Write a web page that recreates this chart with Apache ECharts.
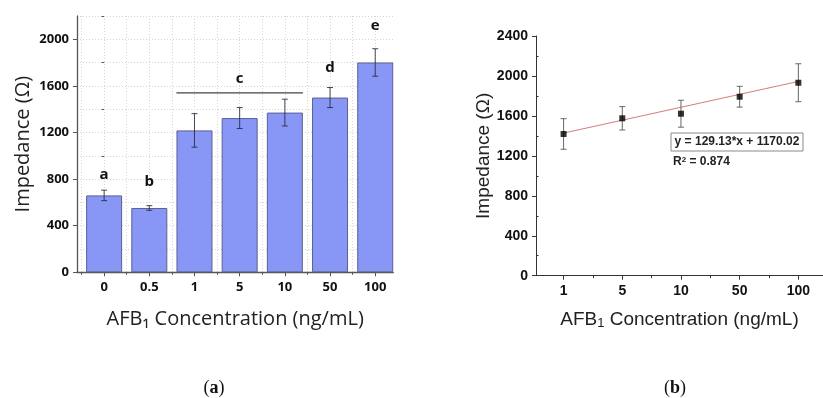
<!DOCTYPE html>
<html>
<head>
<meta charset="utf-8">
<script src="https://cdn.jsdelivr.net/npm/echarts@6/dist/echarts.min.js"></script>
<style>html,body{margin:0;padding:0;background:#fff}#c{width:823px;height:398px}</style>
</head>
<body>
<div id="c"></div>
<script>
// ---- Panel (a) data ----
const concA = ['0', '0.5', '1', '5', '10', '50', '100'];
const impA = [660, 552, 1218, 1324, 1371, 1500, 1801];
const errA = [45, 20, 144, 90, 115, 86, 118];
const sigLetters = ['a', 'b', 'c', 'd', 'e'];
const sigX = [0, 1, 3, 5, 6];
const sigY = [770, 709, 1597, 1692, 2053];
const bracketX = [1.6, 4.4];
const bracketY = 1540;
const yTicksA = [0, 400, 800, 1200, 1600, 2000];
const yMinorA = [200, 600, 1000, 1400, 1800, 2200];

// ---- Panel (b) data ----
const concB = ['1', '5', '10', '50', '100'];
const impB = [1419, 1576, 1622, 1792, 1932];
const errB = [153, 117, 135, 104, 190];
const fitX = [1, 5];
const fitY = [1428, 1945];
const yTicksB = [0, 400, 800, 1200, 1600, 2000, 2400];
const yMinorB = [200, 600, 1000, 1400, 1800, 2200];

const idxA = concA.map((_, i) => i);
const boundA = [-0.5, 0.5, 1.5, 2.5, 3.5, 4.5, 5.5];
const posB = concB.map((_, i) => i + 1);
const boundB = [1.5, 2.5, 3.5, 4.5];

const fontA = '"Open Sans", "Noto Sans", sans-serif';
const fontB = '"Liberation Sans", Arial, sans-serif';
const plain = v => String(Math.round(v));

function errRender(halfCap, color, width) {
  return function (params, api) {
    const x = api.value(0), y = api.value(1), e = api.value(2);
    const top = api.coord([x, y + e]);
    const bot = api.coord([x, y - e]);
    const style = { stroke: color, lineWidth: width };
    return {
      type: 'group',
      children: [
        { type: 'line', shape: { x1: top[0], y1: top[1], x2: bot[0], y2: bot[1] }, style },
        { type: 'line', shape: { x1: top[0] - halfCap, y1: top[1], x2: top[0] + halfCap, y2: top[1] }, style },
        { type: 'line', shape: { x1: bot[0] - halfCap, y1: bot[1], x2: bot[0] + halfCap, y2: bot[1] }, style }
      ]
    };
  };
}

const gridLineA = { show: true, lineStyle: { color: '#d4d4d4', type: [1, 2], width: 1 } };
const axisColA = '#555';
const axisColB = '#333';

const chart = echarts.init(document.getElementById('c'), null, { renderer: 'canvas' });
chart.setOption({
  animation: false,
  backgroundColor: '#fff',
  grid: [
    { left: 77, top: 16, right: 429.7, bottom: 125.7, containLabel: false },
    { left: 536, top: 36, right: 0, bottom: 122.3, containLabel: false }
  ],
  xAxis: [
    {
      gridIndex: 0, type: 'value', min: -0.6, max: 6.4, position: 'bottom',
      axisLine: { show: true, onZero: false, lineStyle: { color: axisColA, width: 1.3 } },
      axisTick: { show: true, customValues: idxA, length: 4, lineStyle: { color: axisColA } },
      axisLabel: { show: true, customValues: idxA, formatter: v => concA[Math.round(v)],
        fontFamily: fontA, fontWeight: 'bold', fontSize: 13, color: '#111', margin: 8 },
      splitLine: gridLineA,
      name: 'AFB\u2081 Concentration (ng/mL)', nameLocation: 'middle', nameGap: 37,
      nameTextStyle: { fontFamily: fontA, fontSize: 20, color: '#222' }
    },
    {
      gridIndex: 0, type: 'value', min: -0.6, max: 6.4, position: 'bottom',
      axisLine: { show: false },
      axisTick: { show: true, customValues: boundA, length: 2.5, lineStyle: { color: axisColA } },
      axisLabel: { show: false },
      splitLine: gridLineA
    },
    {
      gridIndex: 1, type: 'value', min: 0.53, max: 5.42, position: 'bottom',
      axisLine: { show: true, onZero: false, lineStyle: { color: axisColB, width: 1 } },
      axisTick: { show: true, customValues: posB, length: 4, lineStyle: { color: axisColB } },
      axisLabel: { show: true, customValues: posB, formatter: v => concB[Math.round(v) - 1],
        fontFamily: fontB, fontWeight: 'bold', fontSize: 14, color: '#111', margin: 8 },
      splitLine: { show: false },
      name: '{n|AFB}{s|1}{n| Concentration (ng/mL)}', nameLocation: 'middle', nameGap: 30,
      nameTextStyle: {
        rich: {
          n: { fontFamily: fontB, fontSize: 19, color: '#222', lineHeight: 24, verticalAlign: 'bottom' },
          s: { fontFamily: fontB, fontSize: 13, color: '#222', lineHeight: 13, verticalAlign: 'bottom' }
        }
      }
    },
    {
      gridIndex: 1, type: 'value', min: 0.53, max: 5.42, position: 'bottom',
      axisLine: { show: false },
      axisTick: { show: true, customValues: boundB, length: 2.5, lineStyle: { color: axisColB } },
      axisLabel: { show: false },
      splitLine: { show: false }
    }
  ],
  yAxis: [
    {
      gridIndex: 0, type: 'value', min: 0, max: 2200, position: 'left',
      axisLine: { show: true, onZero: false, lineStyle: { color: axisColA, width: 1.3 } },
      axisTick: { show: true, customValues: yTicksA, length: 4, lineStyle: { color: axisColA } },
      axisLabel: { show: true, customValues: yTicksA, formatter: plain, fontFamily: fontA, fontWeight: 'bold', fontSize: 13, color: '#111', margin: 8 },
      splitLine: gridLineA,
      name: 'Impedance (\u03A9)', nameLocation: 'middle', nameGap: 44,
      nameTextStyle: { fontFamily: fontA, fontSize: 20, color: '#222' }
    },
    {
      gridIndex: 0, type: 'value', min: 0, max: 2200, position: 'left',
      axisLine: { show: false },
      axisTick: { show: true, customValues: yMinorA, length: 2.5, lineStyle: { color: axisColA } },
      axisLabel: { show: false },
      splitLine: gridLineA
    },
    {
      gridIndex: 1, type: 'value', min: 0, max: 2400, position: 'left',
      axisLine: { show: true, onZero: false, lineStyle: { color: axisColB, width: 1 } },
      axisTick: { show: true, customValues: yTicksB, length: 4, lineStyle: { color: axisColB } },
      axisLabel: { show: true, customValues: yTicksB, formatter: plain, fontFamily: fontB, fontWeight: 'bold', fontSize: 14, color: '#111', margin: 8 },
      splitLine: { show: false },
      name: 'Impedance (\u03A9)', nameLocation: 'middle', nameGap: 42,
      nameTextStyle: { fontFamily: fontB, fontSize: 19, color: '#222' }
    },
    {
      gridIndex: 1, type: 'value', min: 0, max: 2400, position: 'left',
      axisLine: { show: false },
      axisTick: { show: true, inside: true, customValues: yMinorB, length: 2.5, lineStyle: { color: axisColB } },
      axisLabel: { show: false },
      splitLine: { show: false }
    }
  ],
  series: [
    {
      type: 'bar', xAxisIndex: 0, yAxisIndex: 0, barWidth: 36,
      data: impA.map((v, i) => [i, v]),
      itemStyle: { color: '#8896f5', borderColor: '#5b6190', borderWidth: 1 }
    },
    {
      type: 'custom', xAxisIndex: 0, yAxisIndex: 0,
      renderItem: errRender(3, 'rgba(40,40,60,0.85)', 1),
      data: impA.map((v, i) => [i, v, errA[i]]), z: 5
    },
    {
      type: 'line', xAxisIndex: 0, yAxisIndex: 0, symbol: 'none',
      data: bracketX.map(x => [x, bracketY]),
      lineStyle: { color: '#444', width: 1.2 }, z: 5
    },
    {
      type: 'custom', xAxisIndex: 0, yAxisIndex: 0, z: 6,
      renderItem: function (params, api) {
        const p = api.coord([api.value(0), api.value(1)]);
        return { type: 'text', x: p[0], y: p[1], style: {
          text: sigLetters[params.dataIndex], textAlign: 'center', textVerticalAlign: 'bottom',
          font: 'bold 15px ' + fontA, fill: '#111' } };
      },
      data: sigX.map((x, i) => [x, sigY[i]])
    },
    {
      type: 'line', xAxisIndex: 2, yAxisIndex: 2, symbol: 'none',
      data: fitX.map((x, i) => [x, fitY[i]]),
      lineStyle: { color: '#d47c7c', width: 1 }, z: 3
    },
    {
      type: 'custom', xAxisIndex: 2, yAxisIndex: 2,
      renderItem: errRender(3, '#666', 1),
      data: impB.map((v, i) => [i + 1, v, errB[i]]), z: 4
    },
    {
      type: 'scatter', xAxisIndex: 2, yAxisIndex: 2, symbol: 'rect', symbolSize: 6,
      data: impB.map((v, i) => [i + 1, v]),
      itemStyle: { color: '#000' }, z: 6
    }
  ],
  graphic: [
    { type: 'rect', shape: { x: 671, y: 133, width: 132, height: 18 },
      style: { fill: '#fff', stroke: '#8a8a8a', lineWidth: 1 }, z: 10 },
    { type: 'text', x: 737, y: 142, z: 11,
      style: { text: 'y = 129.13*x + 1170.02', font: 'bold 12px ' + fontB, fill: '#222',
        textAlign: 'center', textVerticalAlign: 'middle' } },
    { type: 'text', x: 673, y: 156, z: 11,
      style: { text: '{n|R}{p|2}{n| = 0.874}', textAlign: 'left', textVerticalAlign: 'top',
        rich: { n: { font: 'bold 12px ' + fontB, fill: '#222', lineHeight: 14, verticalAlign: 'top' },
                p: { font: 'bold 8px ' + fontB, fill: '#222', lineHeight: 9, verticalAlign: 'top' } } } },
    { type: 'text', x: 214, y: 388, z: 11,
      style: { text: '{n|(}{b|a}{n|)}', textAlign: 'center', textVerticalAlign: 'middle',
        rich: { n: { font: '18px "Liberation Serif", serif', fill: '#111' },
                b: { font: 'bold 18px "Liberation Serif", serif', fill: '#111' } } } },
    { type: 'text', x: 675, y: 388, z: 11,
      style: { text: '{n|(}{b|b}{n|)}', textAlign: 'center', textVerticalAlign: 'middle',
        rich: { n: { font: '18px "Liberation Serif", serif', fill: '#111' },
                b: { font: 'bold 18px "Liberation Serif", serif', fill: '#111' } } } }
  ]
});
</script>
</body>
</html>
